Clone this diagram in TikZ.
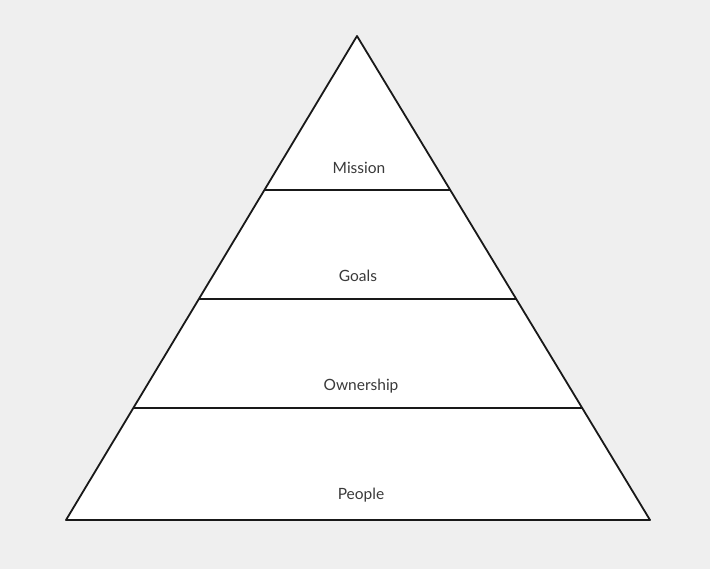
\documentclass[tikz,border=0pt]{standalone}
\usepackage{fontspec}
\setmainfont{Lato}
\definecolor{bg}{HTML}{EFEFEF}
\definecolor{txt}{HTML}{3A3A3A}
\begin{document}
\begin{tikzpicture}[x=1pt,y=-1pt,
  edge/.style={line width=1.8pt,draw=black!90,line join=round},
  lbl/.style={font=\fontsize{15.5}{18}\selectfont,text=txt,inner sep=0pt,anchor=base}]
\fill[bg] (0,0) rectangle (710,569);
\useasboundingbox (0,0) rectangle (710,569);
\coordinate (apex) at (357,36);
\coordinate (bl) at (66,520);
\coordinate (br) at (650,520);
\fill[white] (apex) -- (br) -- (bl) -- cycle;
\coordinate (l1) at (264.4,190); \coordinate (r1) at (450.2,190);
\coordinate (l2) at (198.9,299); \coordinate (r2) at (516.2,299);
\coordinate (l3) at (133.4,408); \coordinate (r3) at (582.2,408);
\draw[edge] (l1) -- (r1);
\draw[edge] (l2) -- (r2);
\draw[edge] (l3) -- (r3);
\draw[edge] (apex) -- (br) -- (bl) -- cycle;
\node[lbl] (mission) at (359,174) {Mission};
\node[lbl] (goals) at (358,282) {Goals};
\node[lbl] (own) at (361,391) {Ownership};
\node[lbl] (people) at (361,499) {People};
\end{tikzpicture}
\end{document}
